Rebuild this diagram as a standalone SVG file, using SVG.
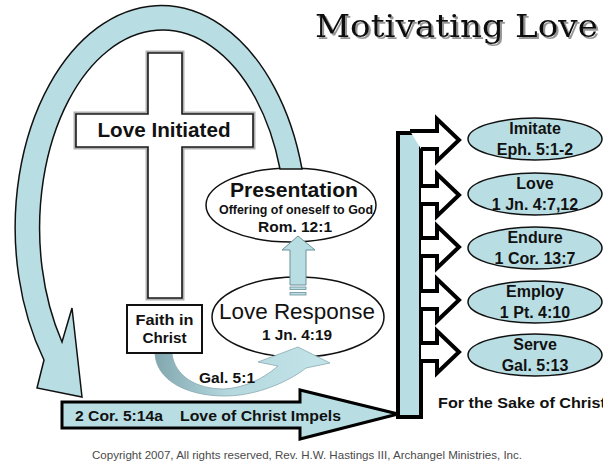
<svg xmlns="http://www.w3.org/2000/svg" width="603" height="464" viewBox="0 0 603 464">
<style>
.t{font-family:"Liberation Sans",Arial,sans-serif;font-weight:bold;fill:#111;}
.c{text-anchor:middle;}
.node{fill:#fff;stroke:#111;stroke-width:1.5;}
.oval{fill:#b8dee4;stroke:#111;stroke-width:1.5;}
.open{fill:#fff;stroke:#000;stroke-width:4;stroke-linejoin:miter;}
.ot{font-size:16px;}
</style>
<defs>
<linearGradient id="galGrad" x1="150" y1="0" x2="320" y2="0" gradientUnits="userSpaceOnUse">
<stop offset="0" stop-color="#7fa3ab"/>
<stop offset="0.45" stop-color="#b4d8de"/>
<stop offset="1" stop-color="#c2e3e8"/>
</linearGradient>
<filter id="shadow" x="-5%" y="-20%" width="110%" height="140%">
<feDropShadow dx="2" dy="2" stdDeviation="0.6" flood-color="#8a8a8a" flood-opacity="0.9"/>
</filter>
</defs>
<rect width="603" height="464" fill="#fff"/>

<g id="title">
<text x="315" y="37" font-family="DejaVu Serif,serif" font-size="31" fill="#111" textLength="283" lengthAdjust="spacingAndGlyphs" filter="url(#shadow)">Motivating Love</text>
</g>

<g id="cross">
<path d="M148,53 H182 V114 H253 V147 H182 V298 H148 V147 H76 V114 H148 Z" fill="#fff" stroke="#b0b0b0" stroke-width="5"/>
<path d="M148,53 H182 V114 H253 V147 H182 V298 H148 V147 H76 V114 H148 Z" fill="#fff" stroke="#1a1a1a" stroke-width="1.6"/>
<text class="t c" x="164" y="137" font-size="20" textLength="133" lengthAdjust="spacingAndGlyphs">Love Initiated</text>
</g>

<g id="presentation">
<ellipse class="node" cx="291" cy="205" rx="85" ry="37"/>
<text class="t c" x="294" y="197" font-size="21" textLength="128" lengthAdjust="spacingAndGlyphs">Presentation</text>
<text class="t c" x="296" y="214" font-size="12.4" textLength="154" lengthAdjust="spacingAndGlyphs">Offering of oneself to God</text>
<text class="t c" x="295" y="232" font-size="15.5" textLength="74" lengthAdjust="spacingAndGlyphs">Rom. 12:1</text>
</g>

<g id="love-response">
<ellipse class="node" cx="298" cy="317" rx="86" ry="40"/>
<text class="t c" x="297" y="319" font-size="21.5" style="font-weight:normal" textLength="156" lengthAdjust="spacingAndGlyphs">Love Response</text>
<text class="t c" x="297" y="340" font-size="15.5" textLength="70" lengthAdjust="spacingAndGlyphs">1 Jn. 4:19</text>
</g>

<g id="impels-bar">
<rect x="398" y="133" width="23" height="284" fill="#b8dee4" stroke="#000" stroke-width="4"/>
</g>

<g id="imitate">
<ellipse class="oval" cx="535" cy="139" rx="67" ry="21"/>
<text class="t c ot" x="535" y="134">Imitate</text>
<text class="t c ot" x="535" y="155">Eph. 5:1-2</text>
</g>
<g id="love">
<ellipse class="oval" cx="535" cy="194" rx="67" ry="21"/>
<text class="t c ot" x="535" y="189">Love</text>
<text class="t c ot" x="535" y="210">1 Jn. 4:7,12</text>
</g>
<g id="endure">
<ellipse class="oval" cx="535" cy="248" rx="67" ry="21"/>
<text class="t c ot" x="535" y="243">Endure</text>
<text class="t c ot" x="535" y="264">1 Cor. 13:7</text>
</g>
<g id="employ">
<ellipse class="oval" cx="535" cy="302" rx="67" ry="21"/>
<text class="t c ot" x="535" y="297">Employ</text>
<text class="t c ot" x="535" y="318">1 Pt. 4:10</text>
</g>
<g id="serve">
<ellipse class="oval" cx="535" cy="355" rx="67" ry="21"/>
<text class="t c ot" x="535" y="350">Serve</text>
<text class="t c ot" x="535" y="371">Gal. 5:13</text>
</g>

<g id="for-sake">
<text class="t" x="438" y="408" font-size="15.5" textLength="168" lengthAdjust="spacingAndGlyphs">For the Sake of Christ</text>
</g>

<g id="connectors">
<path d="M44,360 A146,222 0 1 1 302,169 L280,169 A123,198 0 1 0 62,342 L72,308 L82,397 L37,388 Z" fill="#b8dee4" stroke="#111" stroke-width="1.5" stroke-linejoin="miter"/>
<path d="M290,285 V250 H282 L298,236 L315,250 H306 V285 Z" fill="#b8dee4" stroke="#6d9198" stroke-width="1"/>
<rect x="290" y="287" width="16" height="2.5" fill="#b8dee4" stroke="#6d9198" stroke-width="0.8"/>
<rect x="290" y="292.5" width="16" height="2.5" fill="#b8dee4" stroke="#6d9198" stroke-width="0.8"/>
<path d="M155,354 C157,386 200,400 240,395 C268,391 292,379 306,368 L330,363 L298,347 L258,362 L278,366 C262,380 243,388 224,389 C196,389 175,376 172,354 Z" fill="url(#galGrad)" stroke="#86a9b0" stroke-width="0.8"/>
<text class="t" x="199" y="383" font-size="15.5" textLength="56" lengthAdjust="spacingAndGlyphs">Gal. 5:1</text>
<path d="M62,402 H300 V390 L398,414 L300,439 V428 H62 Z" fill="#b8dee4" stroke="#000" stroke-width="3" stroke-linejoin="miter"/>
<text class="t" x="75" y="421" font-size="15.5" textLength="88" lengthAdjust="spacingAndGlyphs">2 Cor. 5:14a</text>
<text class="t" x="180" y="421" font-size="15.5" textLength="161" lengthAdjust="spacingAndGlyphs">Love of Christ Impels</text>
<path class="open" d="M410,131 H437 V119 L459,140 L437,161 V149 H421"/>
<path class="open" d="M421,186 H437 V174 L459,195 L437,216 V204 H421"/>
<path class="open" d="M421,238 H437 V226 L459,247 L437,268 V256 H421"/>
<path class="open" d="M421,291 H437 V279 L459,300 L437,321 V309 H421"/>
<path class="open" d="M421,343 H437 V331 L459,352 L437,373 V361 H421"/>
</g>

<g id="faith">
<rect x="127" y="305" width="75" height="48" fill="#fff" stroke="#111" stroke-width="2"/>
<text class="t c" x="164.5" y="325" font-size="15.5" textLength="58" lengthAdjust="spacingAndGlyphs">Faith in</text>
<text class="t c" x="164.5" y="343" font-size="15.5" textLength="44" lengthAdjust="spacingAndGlyphs">Christ</text>
</g>

<g id="copyright">
<text x="92" y="459" font-family="Liberation Sans,Arial,sans-serif" font-size="11.5" fill="#4a4a4a" textLength="430" lengthAdjust="spacingAndGlyphs">Copyright 2007, All rights reserved, Rev. H.W. Hastings III, Archangel Ministries, Inc.</text>
</g>
</svg>
